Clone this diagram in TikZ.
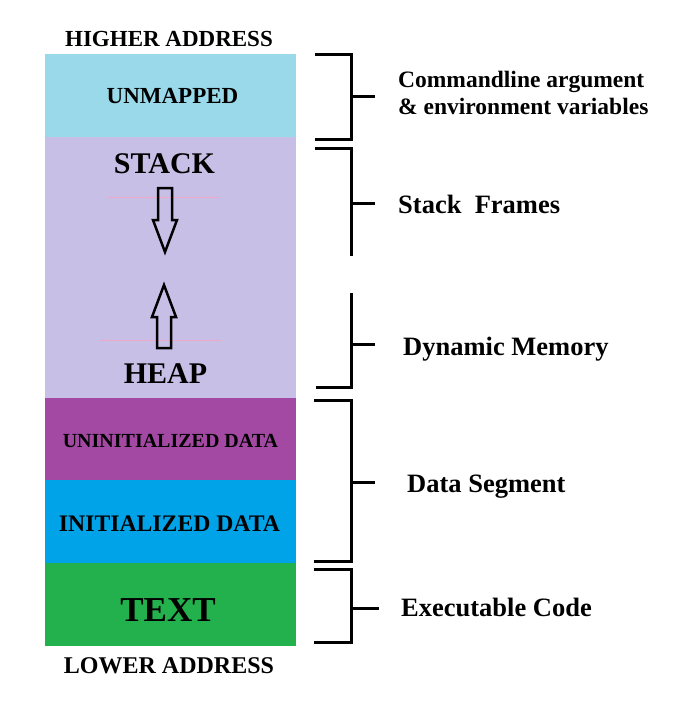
\documentclass[tikz,border=0pt]{standalone}
\usepackage{fontspec}
\setmainfont{Liberation Serif}
\definecolor{cunmapped}{HTML}{99D9EA}
\definecolor{cstack}{HTML}{C8BFE7}
\definecolor{cuninit}{HTML}{A349A4}
\definecolor{cinit}{HTML}{00A2E8}
\definecolor{ctext}{HTML}{22B14C}
\definecolor{cpink}{HTML}{F0A8C8}
\tikzset{
  seg/.style={draw=none, inner sep=0pt, outer sep=0pt, minimum width=251pt, anchor=north west},
  segtxt/.style={anchor=base, inner sep=0pt, font=\bfseries\fontsize{#1}{#1}\selectfont},
  lbl/.style={anchor=base west, inner sep=0pt, font=\bfseries\fontsize{#1}{#1}\selectfont},
  brk/.style={line width=3pt, line join=miter, line cap=butt},
  blockarrow/.style={line width=2.5pt, line join=miter},
  pinkline/.style={cpink, line width=0.8pt}
}
\begin{document}
\begin{tikzpicture}[x=1pt,y=-1pt]
\useasboundingbox (0,0) rectangle (692,704);
\fill[white] (0,0) rectangle (692,704);

% memory segments
\node[seg, fill=cunmapped, minimum height=83pt] (unmapped) at (45,54) {};
\node[seg, fill=cstack, minimum height=261pt] (stackheap) at (45,137) {};
\node[seg, fill=cuninit, minimum height=82pt] (uninit) at (45,398) {};
\node[seg, fill=cinit, minimum height=83pt] (init) at (45,480) {};
\node[seg, fill=ctext, minimum height=83pt] (textseg) at (45,563) {};

% segment texts
\node[segtxt=23] (higher) at (169,46) {HIGHER ADDRESS};
\node[segtxt=23] (unmappedtxt) at (172.5,103) {UNMAPPED};
\node[segtxt=30] (stacktxt) at (164.5,173) {STACK};
\node[segtxt=30] (heaptxt) at (165.5,383) {HEAP};
\node[segtxt=20] (uninittxt) at (170.5,447) {UNINITIALIZED DATA};
\node[segtxt=23.7] (inittxt) at (169.5,531.5) {INITIALIZED DATA};
\node[segtxt=35] (texttxt) at (168,621.5) {TEXT};
\node[segtxt=24] (lower) at (169,673) {LOWER ADDRESS};

% faint pink lines
\draw[pinkline] (108,197) -- (220,197);
\draw[pinkline] (99,340) -- (221,340);

% growth arrows
\draw[blockarrow] (158,188) -- (172,188) -- (172,220) -- (177,220) -- (165,252)
  -- (153,220) -- (158,220) -- cycle;
\draw[blockarrow] (157,348) -- (171,348) -- (171,317) -- (176,317) -- (164,285)
  -- (152,317) -- (157,317) -- cycle;

% brackets
\coordinate (b1t) at (315,54);  \coordinate (b1b) at (315,139);
\draw[brk] (b1t) -- (351,54) -- (351,139) -- (b1b);
\coordinate (b1m) at (351,96); \coordinate (b1e) at (375,96);
\draw[brk] (b1m) -- (b1e);

\coordinate (b2t) at (315,148);
\draw[brk] (b2t) -- (351,148) -- (351,256);
\coordinate (b2m) at (351,203); \coordinate (b2e) at (375,203);
\draw[brk] (b2m) -- (b2e);

\coordinate (b3b) at (316,387);
\draw[brk] (351,293) -- (351,387) -- (b3b);
\coordinate (b3m) at (351,344); \coordinate (b3e) at (375,344);
\draw[brk] (b3m) -- (b3e);

\coordinate (b4t) at (314,400); \coordinate (b4b) at (314,561);
\draw[brk] (b4t) -- (351,400) -- (351,561) -- (b4b);
\coordinate (b4m) at (351,482); \coordinate (b4e) at (375,482);
\draw[brk] (b4m) -- (b4e);

\coordinate (b5t) at (314,569); \coordinate (b5b) at (314,642);
\draw[brk] (b5t) -- (351,569) -- (351,642) -- (b5b);
\coordinate (b5m) at (351,608); \coordinate (b5e) at (379,608);
\draw[brk] (b5m) -- (b5e);

% labels
\node[lbl=23.5] (cmd1) at (398,87) {Commandline argument};
\node[lbl=23.5] (cmd2) at (398,114) {\& environment variables};
\node[lbl=26.5] (sf) at (398,213) {Stack\ \ Frames};
\node[lbl=26.5] (dm) at (403,355) {Dynamic Memory};
\node[lbl=26.5] (ds) at (407,492) {Data Segment};
\node[lbl=26.5] (ec) at (401,616) {Executable Code};
\end{tikzpicture}
\end{document}
